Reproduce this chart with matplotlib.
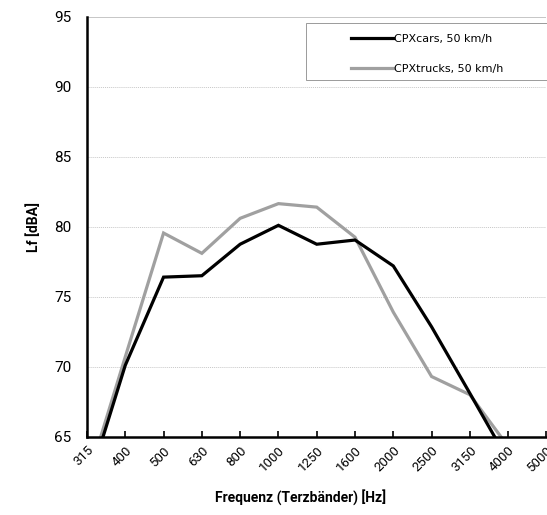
import matplotlib.pyplot as plt
from matplotlib.patches import Rectangle

# third-octave band centre frequencies
bands = ["315", "400", "500", "630", "800", "1000", "1250", "1600",
         "2000", "2500", "3150", "4000", "5000"]

# CPX levels [dBA]
cpx_cars = [61.3, 70.1, 76.4, 76.5, 78.75, 80.1, 78.75, 79.05,
            77.2, 72.85, 68.1, 63.3]
cpx_trucks = [61.8, 70.7, 79.55, 78.1, 80.6, 81.65, 81.4, 79.25,
              73.9, 69.3, 68.0, 64.3]

plt.rcParams['font.family'] = ['Roboto', 'DejaVu Sans']

fig = plt.figure(figsize=(5.47, 5.15), dpi=100)
ax = fig.add_axes([0.159, 0.152, 0.840, 0.8155])

x = list(range(len(bands)))
ax.plot(x[:len(cpx_cars)], cpx_cars, color="black", linewidth=2.3,
        label="CPXcars, 50 km/h", zorder=3, solid_joinstyle="miter")
ax.plot(x[:len(cpx_trucks)], cpx_trucks, color="#a0a0a0", linewidth=2.3,
        label="CPXtrucks, 50 km/h", zorder=2, solid_joinstyle="miter")

ax.set_xlim(0, len(bands) - 1)
ax.set_ylim(65, 95)
ax.set_yticks(range(65, 96, 5))
ax.set_xticks(x)
ax.set_xticklabels(bands, rotation=45, ha="right", va="top",
                   rotation_mode="anchor", fontsize=9.5)
ax.tick_params(axis="x", direction="in", length=4, width=1.2, pad=5)
ax.tick_params(axis="y", length=0, pad=11, labelsize=11)

# horizontal gridlines
for yv in range(70, 95, 5):
    ax.axhline(yv, color="#c8c8c8", linewidth=0.7, linestyle=(0, (1, 1)), zorder=0)
ax.axhline(95, color="#bcbcbc", linewidth=1.2, zorder=0)

for side in ["top", "right"]:
    ax.spines[side].set_visible(False)
for side in ["left", "bottom"]:
    ax.spines[side].set_linewidth(1.8)
    ax.spines[side].set_zorder(4)

ax.set_ylabel("Lf [dBA]", fontsize=10, fontweight="bold")
ax.yaxis.set_label_coords(-0.1, 0.5)
ax.set_xlabel("Frequenz (Terzbänder) [Hz]", fontsize=10, fontweight="bold")
ax.xaxis.set_label_coords(0.465, -0.125)

# legend with a plain rectangular frame
ax.add_patch(Rectangle((0.476, 0.849), 0.53, 0.136, transform=ax.transAxes,
                       facecolor="white", edgecolor="#9a9a9a", linewidth=0.7,
                       zorder=5, clip_on=False))
leg = ax.legend(loc="upper left", bbox_to_anchor=(0.553, 0.983), frameon=False,
                handlelength=3.8, handletextpad=0.1,
                labelspacing=1.8, prop={"family": "DejaVu Sans", "size": 8})
leg.set_zorder(6)

fig.savefig("out.png", dpi=100)
